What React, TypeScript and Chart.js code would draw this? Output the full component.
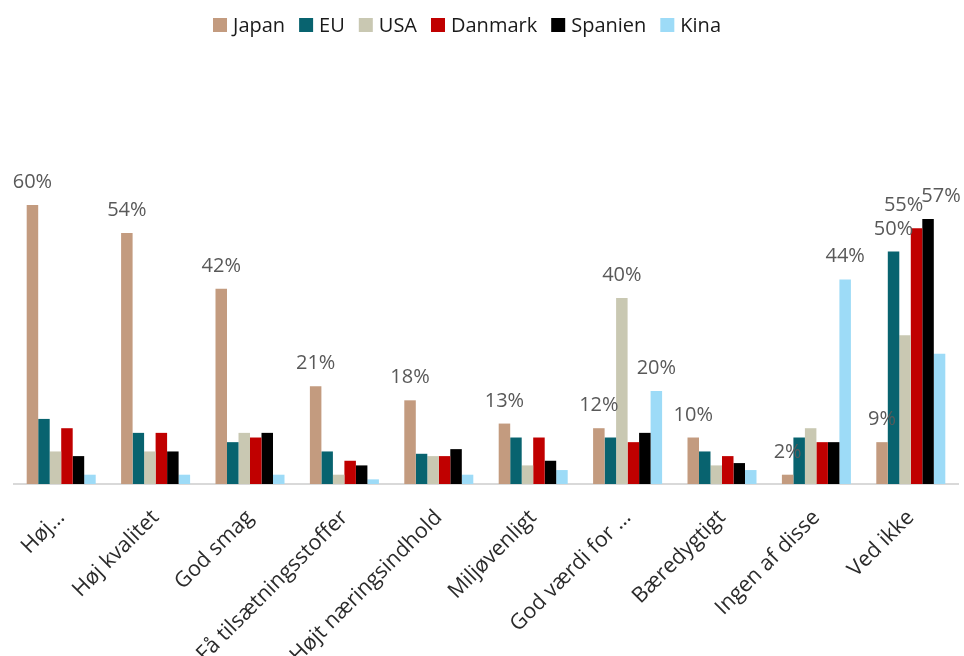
import React, { useEffect, useRef } from "react";
import { Chart, registerables } from "chart.js";

Chart.register(...registerables);

const categories = [
  "Høj…",
  "Høj kvalitet",
  "God smag",
  "Få tilsætningsstoffer",
  "Højt næringsindhold",
  "Miljøvenligt",
  "God værdi for …",
  "Bæredygtigt",
  "Ingen af disse",
  "Ved ikke",
];

const japan = [60, 54, 42, 21, 18, 13, 12, 10, 2, 9];
const eu = [14, 11, 9, 7, 6.5, 10, 10, 7, 10, 50];
const usa = [7, 7, 11, 2, 6, 4, 40, 4, 12, 32];
const danmark = [12, 11, 10, 5, 6, 10, 9, 6, 9, 55];
const spanien = [6, 7, 11, 4, 7.5, 5, 11, 4.5, 9, 57];
const kina = [2, 2, 2, 1, 2, 3, 20, 3, 44, 28];

// category indices whose value carries a data label, per series
const japanLabels = [0, 1, 2, 3, 4, 5, 6, 7, 8, 9];
const euLabels = [9];
const usaLabels = [6];
const danmarkLabels = [9];
const spanienLabels = [9];
const kinaLabels = [6, 8];

const seriesNames = ["Japan", "EU", "USA", "Danmark", "Spanien", "Kina"];
const seriesColors = ["#C39B7F", "#08636F", "#C9C8B2", "#C00000", "#000000", "#9DDBF7"];

const FONT = '"Open Sans", "Noto Sans", sans-serif';

const valueLabelsPlugin = {
  id: "valueLabels",
  afterDatasetsDraw(chart: any) {
    const ctx = chart.ctx;
    ctx.save();
    ctx.font = `20px ${FONT}`;
    ctx.fillStyle = "#595959";
    ctx.textAlign = "center";
    ctx.textBaseline = "alphabetic";
    const items: any[] = [];
    chart.data.datasets.forEach((ds: any, di: number) => {
      const meta = chart.getDatasetMeta(di);
      (ds.labelAt || []).forEach((i: number) => {
        const el = meta.data[i];
        if (!el) return;
        const text = `${ds.data[i]}%`;
        const w = ctx.measureText(text).width;
        items.push({ x: el.x, y: el.y - 17, w, text, cat: i });
      });
    });
    // push apart overlapping labels within a category
    for (let a = 0; a < items.length; a++) {
      for (let b = a + 1; b < items.length; b++) {
        const A = items[a];
        const B = items[b];
        if (A.cat !== B.cat) continue;
        if (Math.abs(A.y - B.y) >= 15) continue;
        const need = (A.w + B.w) / 2;
        const dx = Math.abs(A.x - B.x);
        if (dx >= need) continue;
        const shift = (need - dx) / 2 - 1;
        const [L, R] = A.x <= B.x ? [A, B] : [B, A];
        L.x -= shift;
        R.x += shift;
      }
    }
    const maxX = chart.width - 2;
    items.forEach((it) => {
      const x = Math.min(it.x, maxX - it.w / 2);
      ctx.fillText(it.text, x, it.y);
    });
    ctx.restore();
  },
};

const customLegendPlugin = {
  id: "customLegend",
  afterDraw(chart: any) {
    const ctx = chart.ctx;
    ctx.save();
    ctx.font = `20px ${FONT}`;
    ctx.textBaseline = "middle";
    ctx.textAlign = "left";
    const box = 14;
    const gap = 6;
    const spacing = 14;
    const ds = chart.data.datasets;
    const widths = ds.map((d: any) => box + gap + ctx.measureText(d.label).width);
    const total = widths.reduce((s: number, w: number) => s + w, 0) + spacing * (ds.length - 1);
    const centerX = 467;
    const cy = 25;
    let x = centerX - total / 2;
    ds.forEach((d: any, i: number) => {
      ctx.fillStyle = d.backgroundColor;
      ctx.fillRect(x, cy - box / 2, box, box);
      ctx.fillStyle = "#1a1a1a";
      ctx.fillText(d.label, x + box + gap, cy + 1);
      x += widths[i] + spacing;
    });
    ctx.restore();
  },
};

export default function App() {
  const canvasRef = useRef<HTMLCanvasElement | null>(null);

  useEffect(() => {
    document.body.style.margin = "0";
    const canvas = canvasRef.current;
    if (!canvas) return;
    const seriesValues = [japan, eu, usa, danmark, spanien, kina];
    const seriesLabelAt = [japanLabels, euLabels, usaLabels, danmarkLabels, spanienLabels, kinaLabels];
    const chart = new Chart(canvas, {
      type: "bar",
      data: {
        labels: categories,
        datasets: seriesNames.map((name, i) => ({
          label: name,
          data: seriesValues[i],
          backgroundColor: seriesColors[i],
          borderWidth: 0,
          categoryPercentage: 0.731,
          barPercentage: 1,
          labelAt: seriesLabelAt[i],
        })) as any,
      },
      options: {
        animation: false,
        responsive: false,
        maintainAspectRatio: false,
        layout: { padding: { left: 14, right: 6, top: 47, bottom: 0 } },
        plugins: {
          legend: { display: false },
          tooltip: { enabled: false },
        },
        scales: {
          x: {
            grid: { display: false, drawTicks: false },
            border: { display: true, color: "#D9D9D9", width: 2 },
            ticks: {
              font: { family: FONT, size: 21.5 },
              color: "#2b2b2b",
              maxRotation: 45,
              minRotation: 45,
              autoSkip: false,
              padding: 21,
            },
            afterFit: (scale: any) => {
              scale.height = 172;
            },
          },
          y: {
            display: false,
            min: 0,
            max: 94,
          },
        },
      },
      plugins: [valueLabelsPlugin, customLegendPlugin],
    });
    return () => chart.destroy();
  }, []);

  return (
    <div style={{ position: "absolute", left: 0, top: 0, width: 964, height: 656, background: "#fff" }}>
      <canvas ref={canvasRef} width={964} height={656} style={{ width: 964, height: 656, display: "block" }} />
    </div>
  );
}
